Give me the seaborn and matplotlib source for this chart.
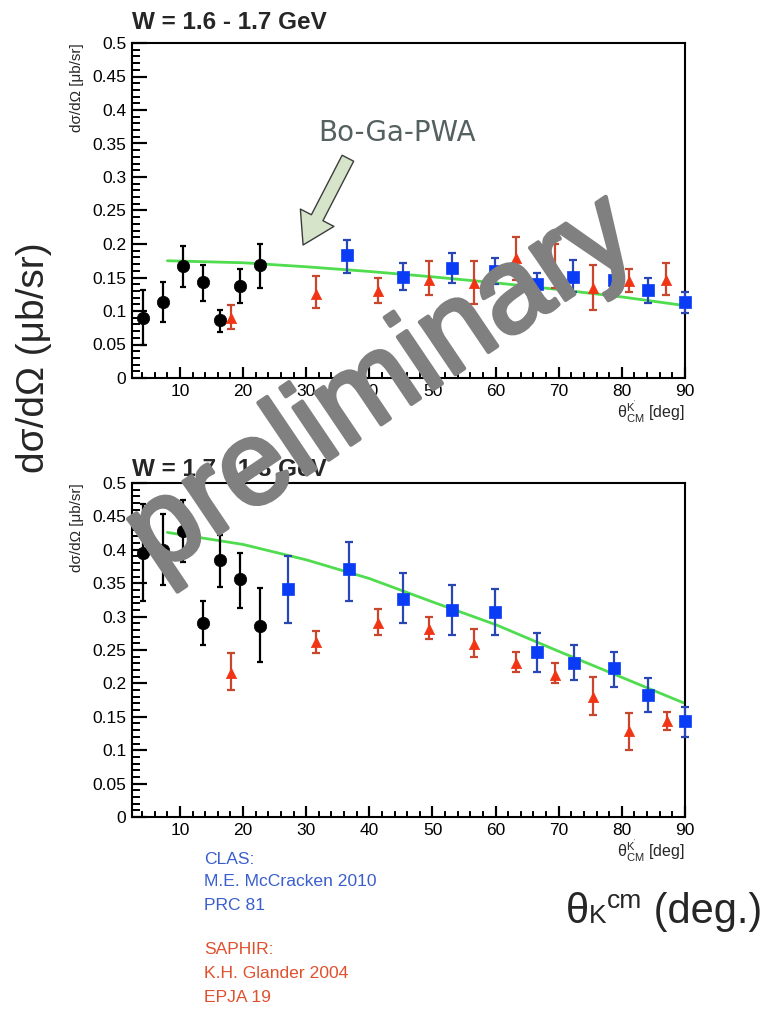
import numpy as np
import matplotlib
matplotlib.use("Agg")
import matplotlib.pyplot as plt
import matplotlib.patheffects as pe
from matplotlib.ticker import MultipleLocator, FuncFormatter
from matplotlib.transforms import blended_transform_factory
import seaborn as sns

# ---------------- data ----------------
# top panel: W = 1.6 - 1.7 GeV
top_black_x = [4.2, 7.3, 10.4, 13.6, 16.4, 19.5, 22.6]
top_black_y = [0.089, 0.113, 0.167, 0.143, 0.086, 0.137, 0.168]
top_black_lo = [0.049, 0.084, 0.136, 0.115, 0.068, 0.112, 0.134]
top_black_hi = [0.131, 0.144, 0.197, 0.168, 0.101, 0.162, 0.200]

top_red_x = [18.1, 31.6, 41.3, 49.4, 56.5, 63.3, 69.4, 75.5, 81.2, 87.0]
top_red_y = [0.089, 0.126, 0.130, 0.146, 0.142, 0.179, 0.164, 0.134, 0.145, 0.146]
top_red_lo = [0.073, 0.104, 0.112, 0.124, 0.110, 0.146, 0.134, 0.101, 0.128, 0.124]
top_red_hi = [0.109, 0.152, 0.150, 0.174, 0.174, 0.210, 0.200, 0.169, 0.162, 0.171]

top_blue_x = [36.5, 45.4, 53.1, 59.9, 66.5, 72.2, 78.7, 84.2, 90.0]
top_blue_y = [0.184, 0.151, 0.164, 0.159, 0.141, 0.151, 0.146, 0.131, 0.114]
top_blue_lo = [0.157, 0.131, 0.142, 0.140, 0.124, 0.129, 0.124, 0.112, 0.097]
top_blue_hi = [0.206, 0.171, 0.187, 0.179, 0.157, 0.176, 0.169, 0.150, 0.129]

top_model_x = [8, 20, 30, 40, 50, 60, 70, 80, 90]
top_model_y = [0.175, 0.172, 0.166, 0.159, 0.151, 0.142, 0.132, 0.121, 0.108]

# bottom panel: W = 1.7 - 1.8 GeV
bot_black_x = [4.2, 7.3, 10.4, 13.6, 16.4, 19.5, 22.6]
bot_black_y = [0.395, 0.400, 0.428, 0.290, 0.385, 0.356, 0.286]
bot_black_lo = [0.324, 0.347, 0.381, 0.257, 0.345, 0.313, 0.232]
bot_black_hi = [0.469, 0.454, 0.475, 0.324, 0.422, 0.395, 0.343]

bot_red_x = [18.1, 31.6, 41.3, 49.4, 56.5, 63.3, 69.4, 75.5, 81.2, 87.1]
bot_red_y = [0.216, 0.262, 0.290, 0.281, 0.259, 0.230, 0.213, 0.180, 0.128, 0.143]
bot_red_lo = [0.190, 0.245, 0.273, 0.266, 0.239, 0.217, 0.200, 0.152, 0.100, 0.130]
bot_red_hi = [0.245, 0.278, 0.311, 0.300, 0.281, 0.247, 0.231, 0.210, 0.155, 0.157]

bot_blue_x = [27.1, 36.8, 45.4, 53.1, 59.9, 66.5, 72.4, 78.7, 84.2, 90.0]
bot_blue_y = [0.341, 0.371, 0.327, 0.310, 0.307, 0.247, 0.231, 0.223, 0.183, 0.143]
bot_blue_lo = [0.290, 0.324, 0.290, 0.273, 0.273, 0.217, 0.205, 0.194, 0.157, 0.120]
bot_blue_hi = [0.390, 0.411, 0.366, 0.348, 0.342, 0.276, 0.257, 0.247, 0.208, 0.165]

bot_model_x = [8, 20, 30, 40, 50, 60, 70, 80, 90]
bot_model_y = [0.426, 0.408, 0.385, 0.357, 0.322, 0.288, 0.248, 0.209, 0.170]

titles = ["W = 1.6 - 1.7 GeV", "W = 1.7 - 1.8 GeV"]
x_ticks = [10, 20, 30, 40, 50, 60, 70, 80, 90]

# ---------------- style ----------------
sns.set_theme(style="ticks")
plt.rcParams["font.family"] = ["Liberation Sans", "DejaVu Sans"]
plt.rcParams["mathtext.fontset"] = "custom"
plt.rcParams["mathtext.rm"] = "Liberation Sans"
plt.rcParams["mathtext.it"] = "Liberation Sans:italic"
plt.rcParams["mathtext.bf"] = "Liberation Sans:bold"
plt.rcParams.update({
    "xtick.direction": "in", "ytick.direction": "in",
    "xtick.bottom": True, "xtick.top": False,
    "ytick.left": True, "ytick.right": False,
    "xtick.color": "black", "ytick.color": "black",
    "axes.axisbelow": False,
})

BLACK = "#000000"
BLUE_M = "#0a3cf5"
BLUE_E = "#2846b4"
RED_M = "#f03414"
RED_E = "#c8462d"
GREEN = "#4fdc4f"

fig = plt.figure(figsize=(7.67, 10.10), dpi=100)
W, H = 767, 1010
AX_W, AX_H = 553, 335
ax1 = fig.add_axes([132 / W, 1 - 378 / H, AX_W / W, AX_H / H])
ax2 = fig.add_axes([132 / W, 1 - 817 / H, AX_W / W, 334 / H])


def draw_series(ax, x, y, lo, hi, marker, mcolor, ecolor, size, cap):
    y = np.array(y)
    err = np.vstack([y - np.array(lo), np.array(hi) - y])
    ax.errorbar(x, y, yerr=err, fmt="none", ecolor=ecolor, elinewidth=1.6,
                capsize=cap, capthick=1.6, zorder=3, clip_on=False)
    sns.scatterplot(x=x, y=y, ax=ax, marker=marker, color=mcolor, s=size,
                    edgecolor=mcolor, linewidth=0.5, zorder=4, clip_on=False,
                    legend=False)


def draw_inward_ticks(ax):
    """ROOT-style inward ticks at the locator positions."""
    x0, x1 = ax.get_xlim()
    y0, y1 = ax.get_ylim()
    tx = blended_transform_factory(ax.transData, ax.transAxes)
    ty = blended_transform_factory(ax.transAxes, ax.transData)
    xmaj = [v for v in ax.xaxis.get_majorticklocs() if x0 <= v <= x1]
    xmin = [v for v in ax.xaxis.get_minorticklocs() if x0 <= v <= x1]
    ymaj = [v for v in ax.yaxis.get_majorticklocs() if y0 - 1e-9 <= v <= y1 + 1e-9]
    ymin = [v for v in ax.yaxis.get_minorticklocs() if y0 - 1e-9 <= v <= y1 + 1e-9]
    ax.vlines(xmaj, 0, 11 / AX_H, transform=tx, colors="black", lw=1.5,
              zorder=5, clip_on=False)
    ax.vlines(xmin, 0, 5.5 / AX_H, transform=tx, colors="black", lw=1.3,
              zorder=5, clip_on=False)
    ax.hlines(ymaj, 0, 15 / AX_W, transform=ty, colors="black", lw=1.5,
              zorder=5, clip_on=False)
    ax.hlines(ymin, 0, 7.5 / AX_W, transform=ty, colors="black", lw=1.3,
              zorder=5, clip_on=False)


panels = [
    (ax1, (top_black_x, top_black_y, top_black_lo, top_black_hi),
     (top_red_x, top_red_y, top_red_lo, top_red_hi),
     (top_blue_x, top_blue_y, top_blue_lo, top_blue_hi),
     (top_model_x, top_model_y), titles[0], 10),
    (ax2, (bot_black_x, bot_black_y, bot_black_lo, bot_black_hi),
     (bot_red_x, bot_red_y, bot_red_lo, bot_red_hi),
     (bot_blue_x, bot_blue_y, bot_blue_lo, bot_blue_hi),
     (bot_model_x, bot_model_y), titles[1], 5),
]

for ax, blk, red, blu, mdl, title, tpad in panels:
    sns.lineplot(x=mdl[0], y=mdl[1], ax=ax, color=GREEN, lw=2.0, zorder=2,
                 legend=False)
    draw_series(ax, *blk, "o", BLACK, BLACK, 80, 2.5)
    draw_series(ax, *red, "^", RED_M, RED_E, 55, 3)
    draw_series(ax, *blu, "s", BLUE_M, BLUE_E, 66, 3)

    ax.set_xlim(2.4, 90)
    ax.set_ylim(0, 0.5)
    ax.set_xticks(x_ticks)
    ax.xaxis.set_minor_locator(MultipleLocator(2))
    ax.yaxis.set_major_locator(MultipleLocator(0.05))
    ax.yaxis.set_minor_locator(MultipleLocator(0.01))
    ax.yaxis.set_major_formatter(FuncFormatter(lambda v, p: "%g" % round(v, 3)))
    ax.tick_params(axis="both", which="major", labelsize=12.5, pad=4)
    ax.tick_params(axis="x", which="both", bottom=True, top=False,
                   direction="in", color="black")
    ax.tick_params(axis="y", which="both", left=True, right=False,
                   direction="in", color="black")
    ax.tick_params(axis="x", which="major", length=8, width=1.5)
    ax.tick_params(axis="x", which="minor", length=4, width=1.3)
    ax.tick_params(axis="y", which="major", length=11, width=1.5)
    ax.tick_params(axis="y", which="minor", length=5.5, width=1.3)
    ax.set_axisbelow(False)
    for s in ax.spines.values():
        s.set_visible(True)
        s.set_color("black")
        s.set_linewidth(1.5)
    draw_inward_ticks(ax)
    ax.set_ylabel("dσ/dΩ [μb/sr]", loc="top", fontsize=11, labelpad=6)
    ax.set_xlabel(r"$\mathrm{\theta^{K^{'}}_{CM}}$ [deg]", loc="right",
                  fontsize=11.5, labelpad=0)
    ax.set_title(title, loc="left", fontweight="bold", fontsize=17.5, pad=tpad)
    ax.set_facecolor("white")

# model annotation
ax1.annotate("", xy=(29.5, 0.1985), xytext=(36.6, 0.328),
             arrowprops=dict(arrowstyle="simple,head_length=1.3,head_width=1.6,tail_width=0.55",
                             fc="#d6e4c9", ec="#3c3c3c", lw=1.0,
                             shrinkA=0, shrinkB=0, mutation_scale=17),
             zorder=6, annotation_clip=False)
ax1.text(44.4, 0.366, "Bo-Ga-PWA", fontsize=20, color="#556060",
         ha="center", va="center", family=["DejaVu Sans"], zorder=6)

# big axis texts
fig.text(34 / W, 1 - 358 / H, "dσ/dΩ (μb/sr)", rotation=90, fontsize=28,
         ha="center", va="center")

# θK^cm (deg.) built from pieces on a common baseline
renderer = fig.canvas.get_renderer()
pieces = [("θ", 30, 0), ("K", 19, 0), ("cm", 19, 15), (" (deg.)", 30, 0)]
base_y = H - 923
arts = []
for txt, fs, dy in pieces:
    t = fig.text(0, 0, txt, fontsize=fs, ha="left", va="baseline")
    arts.append((t, dy))
widths = [t.get_window_extent(renderer).width for t, _ in arts]
x_cur = 762 - sum(widths)
for (t, dy), w in zip(arts, widths):
    t.set_position((x_cur / W, (base_y + dy) / H))
    x_cur += w

# references
refs = [("CLAS:", 860, "#3a5fcd"), ("M.E. McCracken 2010", 882, "#3a5fcd"),
        ("PRC 81", 905, "#3a5fcd"), ("SAPHIR:", 950, "#e0502d"),
        ("K.H. Glander 2004", 973, "#e0502d"), ("EPJA 19", 997, "#e0502d")]
for txt, yy, col in refs:
    fig.text(204 / W, 1 - yy / H, txt, fontsize=12.6, color=col,
             ha="left", va="center")

# watermark
fig.text(382 / W, 1 - 387 / H, "preliminary", rotation=34, fontsize=86,
         color="#808080", ha="center", va="center", zorder=20,
         path_effects=[pe.withStroke(linewidth=3, foreground="#808080")])

fig.savefig("out.png", dpi=100, facecolor="white")
